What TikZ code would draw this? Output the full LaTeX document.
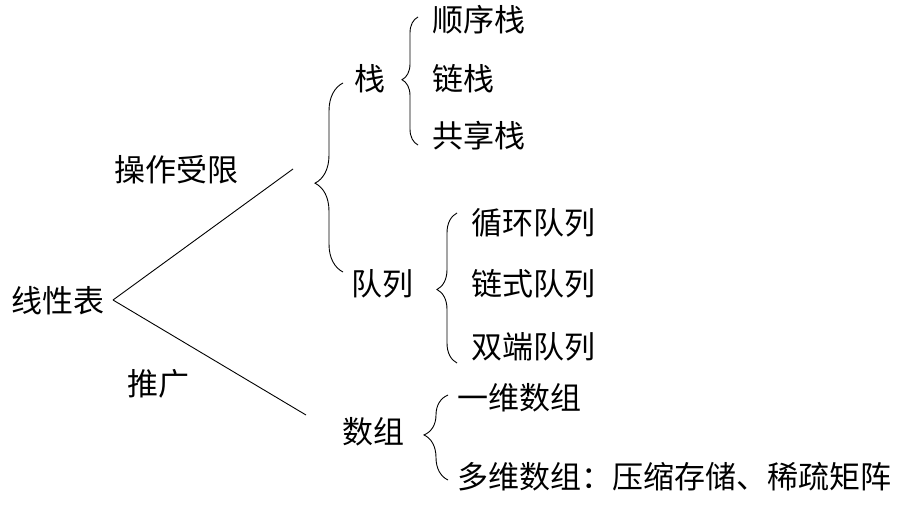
\documentclass[tikz,border=0pt]{standalone}
\usepackage{fontspec}
\newfontfamily\cjk{Noto Sans CJK SC}
\usetikzlibrary{decorations.pathreplacing}
\begin{document}
\begin{tikzpicture}[x=1pt,y=-1pt,
  lbl/.style={font=\cjk\fontsize{31}{31}\selectfont, inner sep=0pt, anchor=west},
  conn/.style={line width=0.9pt, black},
  bracel/.style={line width=0.9pt, decorate, decoration={brace, amplitude=#1}},
]
\useasboundingbox (0,0) rectangle (899,505);
% nodes
\node[lbl] (lin) at (11,301) {线性表};
\node[lbl] (czsx) at (114,170) {操作受限};
\node[lbl] (tg) at (127,384) {推广};
\node[lbl] (zhan) at (354,79) {栈};
\node[lbl] (sxz) at (432,20) {顺序栈};
\node[lbl] (lz) at (432,79) {链栈};
\node[lbl] (gxz) at (432,136) {共享栈};
\node[lbl] (dl) at (351,284) {队列};
\node[lbl] (xhdl) at (471,223) {循环队列};
\node[lbl] (lsdl) at (471,284) {链式队列};
\node[lbl] (sddl) at (471,347) {双端队列};
\node[lbl] (sz) at (342,432) {数组};
\node[lbl] (ywsz) at (457,398) {一维数组};
\node[lbl] (dwsz) at (457,477) {多维数组：压缩存储、稀疏矩阵};
% connector ends
\coordinate (apex) at (113,300);
\coordinate (upend) at (293,169);
\coordinate (lowend) at (306,415);
\coordinate (bigtop) at (343,83);
\coordinate (bigbot) at (343,272);
\coordinate (ztop) at (418,17);
\coordinate (zbot) at (418,145);
\coordinate (qtop) at (457,213);
\coordinate (qbot) at (457,363);
\coordinate (atop) at (448,395);
\coordinate (abot) at (448,480);
% connectors
\draw[conn] (apex) -- (upend);
\draw[conn] (apex) -- (lowend);
\draw[bracel=28pt, decoration={aspect=0.47}] (bigbot) -- (bigtop);
\draw[bracel=16pt, decoration={aspect=0.51}] (zbot) -- (ztop);
\draw[bracel=20pt, decoration={aspect=0.49}] (qbot) -- (qtop);
\draw[bracel=24pt, decoration={aspect=0.53}] (abot) -- (atop);
\end{tikzpicture}
\end{document}
